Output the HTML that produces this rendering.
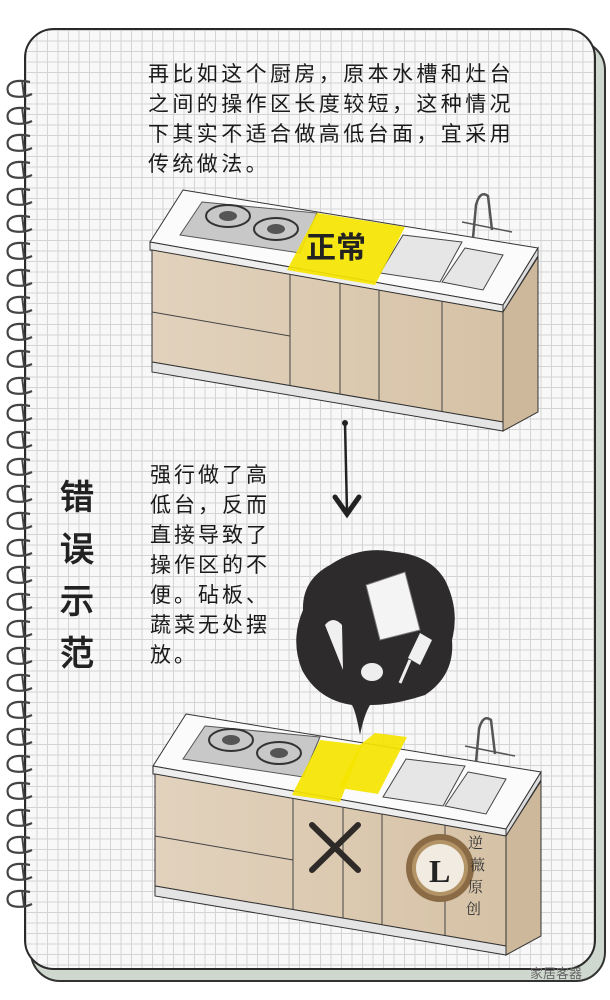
<!DOCTYPE html>
<html><head><meta charset="utf-8"><style>
html,body{margin:0;padding:0;background:#fff;}
body{width:610px;height:1000px;position:relative;overflow:hidden;font-family:"Liberation Sans","Noto Sans CJK SC",sans-serif;}
.back{position:absolute;left:30px;top:40px;width:572px;height:938px;background:#cfd8cf;border:2px solid #333;border-radius:30px;}
.page{position:absolute;left:24px;top:28px;width:568px;height:938px;border:2px solid #2a2a2a;border-radius:30px;
background-color:#f8f8f8;
background-image:linear-gradient(#d4d4d4 1px,transparent 1px),linear-gradient(90deg,#d4d4d4 1px,transparent 1px);
background-size:10.5px 10.5px;}
.t{position:absolute;color:#1a1a1a;font-family:"Liberation Sans","WenQuanYi Zen Hei",sans-serif;}
.p1{left:148px;top:60px;font-size:21px;line-height:30px;letter-spacing:3.4px;}
.p2{left:150px;top:461px;font-size:21px;line-height:30px;letter-spacing:3px;}
.side{left:60px;top:472px;font-size:34px;line-height:52px;font-weight:bold;width:40px;color:#222;}
</style></head><body>
<div class="back"></div>
<div class="page"></div>
<svg width="610" height="1000" style="position:absolute;left:0;top:0">
<defs>
<linearGradient id="wood" x1="0" x2="1"><stop offset="0" stop-color="#e2d2bd"/><stop offset="1" stop-color="#d6c2a6"/></linearGradient>
<g id="ring"><path d="M30 -6 C10 -10 6 -2 8 4 C10 10 24 10 32 6" fill="none" stroke="#444" stroke-width="2.2"/><path d="M22 -8 L24 8" stroke="#444" stroke-width="2"/></g>
<g id="kitchen">
<polygon points="183,190 538,248 503,305 150,242" fill="#fbfbfb" stroke="#333" stroke-width="1"/>
<polygon points="150,242 503,305 503,312 150,250" fill="#eee" stroke="#333" stroke-width="1"/>
<polygon points="503,305 538,248 538,256 503,312" fill="#ddd" stroke="#333" stroke-width="1"/>
<polygon points="152,250 503,312 503,422 152,362" fill="url(#wood)" stroke="#333" stroke-width="1"/>
<polygon points="152,362 503,422 503,431 152,372" fill="#e4e4e4" stroke="#333" stroke-width="1"/>
<polygon points="503,312 538,257 538,412 503,431" fill="#cdb89b" stroke="#333" stroke-width="1"/>
<line x1="290" y1="274" x2="290" y2="386" stroke="#444"/>
<line x1="340" y1="283" x2="340" y2="394" stroke="#444"/>
<line x1="379" y1="290" x2="379" y2="401" stroke="#444"/>
<line x1="442" y1="301" x2="442" y2="411" stroke="#444"/>
<line x1="152" y1="312" x2="290" y2="336" stroke="#444"/>
<polygon points="202,202 317,213 300,253 180,235" fill="#c8c8c8" stroke="#555"/>
<ellipse cx="228" cy="216" rx="22" ry="11" fill="none" stroke="#333" stroke-width="2"/>
<ellipse cx="228" cy="216" rx="9" ry="5" fill="#555"/>
<ellipse cx="276" cy="229" rx="22" ry="11" fill="none" stroke="#333" stroke-width="2"/>
<ellipse cx="276" cy="229" rx="9" ry="5" fill="#555"/>
<polygon points="403,235 462,242 440,282 380,273" fill="#e6e6e6" stroke="#444"/>
<polygon points="465,248 503,255 483,290 442,282" fill="#e6e6e6" stroke="#444"/>
<path d="M473 238 L476 205 Q480 190 488 196 L492 230" fill="none" stroke="#555" stroke-width="2.5"/>
<line x1="462" y1="222" x2="512" y2="232" stroke="#555" stroke-width="1.5"/>
</g>
</defs>
<g>
<use href="#ring" x="0" y="88"/><use href="#ring" x="0" y="115"/><use href="#ring" x="0" y="142"/><use href="#ring" x="0" y="169"/><use href="#ring" x="0" y="196"/><use href="#ring" x="0" y="223"/><use href="#ring" x="0" y="250"/><use href="#ring" x="0" y="277"/><use href="#ring" x="0" y="304"/><use href="#ring" x="0" y="331"/><use href="#ring" x="0" y="358"/><use href="#ring" x="0" y="385"/><use href="#ring" x="0" y="412"/><use href="#ring" x="0" y="439"/><use href="#ring" x="0" y="466"/><use href="#ring" x="0" y="493"/><use href="#ring" x="0" y="520"/><use href="#ring" x="0" y="547"/><use href="#ring" x="0" y="574"/><use href="#ring" x="0" y="601"/><use href="#ring" x="0" y="628"/><use href="#ring" x="0" y="655"/><use href="#ring" x="0" y="682"/><use href="#ring" x="0" y="709"/><use href="#ring" x="0" y="736"/><use href="#ring" x="0" y="763"/><use href="#ring" x="0" y="790"/><use href="#ring" x="0" y="817"/><use href="#ring" x="0" y="844"/><use href="#ring" x="0" y="871"/><use href="#ring" x="0" y="898"/>
</g>
<use href="#kitchen"/>
<polygon points="317,213 405,227 375,285 287,270" fill="#f5e400" opacity="0.92"/>
<text x="306" y="258" font-size="30" font-weight="bold" fill="#222" font-family="Liberation Sans,Noto Sans CJK SC,sans-serif">正常</text>
<!-- arrow -->
<circle cx="345" cy="423" r="3" fill="#222"/>
<path d="M345 423 L347 512" stroke="#222" stroke-width="2.5"/>
<path d="M335 497 L347 514 L359 497" fill="none" stroke="#222" stroke-width="5" stroke-linecap="round"/>
<!-- blob -->
<path d="M360 735 Q356 712 352 705 Q318 700 302 670 Q290 640 303 610 Q302 580 330 565 Q360 545 395 552 Q430 555 445 580 Q460 610 452 640 Q455 675 425 695 Q395 705 370 705 Q364 715 360 735Z" fill="#2d2b2b"/>
<polygon points="366,585 405,572 420,630 380,640" fill="#f4f4f4" stroke="#777"/>
<path d="M325 625 Q333 615 342 625 L343 670 Z" fill="#f0f0f0"/>
<ellipse cx="372" cy="672" rx="11" ry="9" fill="#eee"/>
<polygon points="420,633 432,640 420,665 408,658" fill="#f0f0f0"/>
<line x1="410" y1="660" x2="400" y2="683" stroke="#eee" stroke-width="3"/>
<g transform="translate(3,524)"><use href="#kitchen"/></g>
<polygon points="320,740 362,745 340,802 292,795" fill="#f5e400" opacity="0.92"/>
<polygon points="375,733 407,737 378,794 340,788 342,780 360,745" fill="#f5e400" opacity="0.92"/>
<path d="M312 825 L358 870 M358 825 L312 870" stroke="#2e2a28" stroke-width="6" stroke-linecap="round"/>
<circle cx="440" cy="868" r="34" fill="#8a6b45"/>
<circle cx="440" cy="868" r="28" fill="#b39467"/>
<circle cx="440" cy="868" r="24" fill="#f1ebe1"/>
<text x="429" y="882" font-size="32" font-weight="bold" font-family="Liberation Serif,serif" fill="#222">L</text>
<text x="468" y="848" font-size="15" fill="#333" font-family="Liberation Serif,Noto Serif CJK SC,serif">逆</text>
<text x="470" y="870" font-size="15" fill="#333" font-family="Liberation Serif,Noto Serif CJK SC,serif">薇</text>
<text x="468" y="892" font-size="15" fill="#333" font-family="Liberation Serif,Noto Serif CJK SC,serif">原</text>
<text x="466" y="914" font-size="15" fill="#333" font-family="Liberation Serif,Noto Serif CJK SC,serif">创</text>
<text x="530" y="978" font-size="13" fill="#666" font-family="Liberation Sans,Noto Sans CJK SC,sans-serif">家居客器</text>
</svg>
<div class="t p1">再比如这个厨房，原本水槽和灶台<br>之间的操作区长度较短，这种情况<br>下其实不适合做高低台面，宜采用<br>传统做法。</div>
<div class="t side">错<br>误<br>示<br>范</div>
<div class="t p2">强行做了高<br>低台，反而<br>直接导致了<br>操作区的不<br>便。砧板、<br>蔬菜无处摆<br>放。</div>
</body></html>
